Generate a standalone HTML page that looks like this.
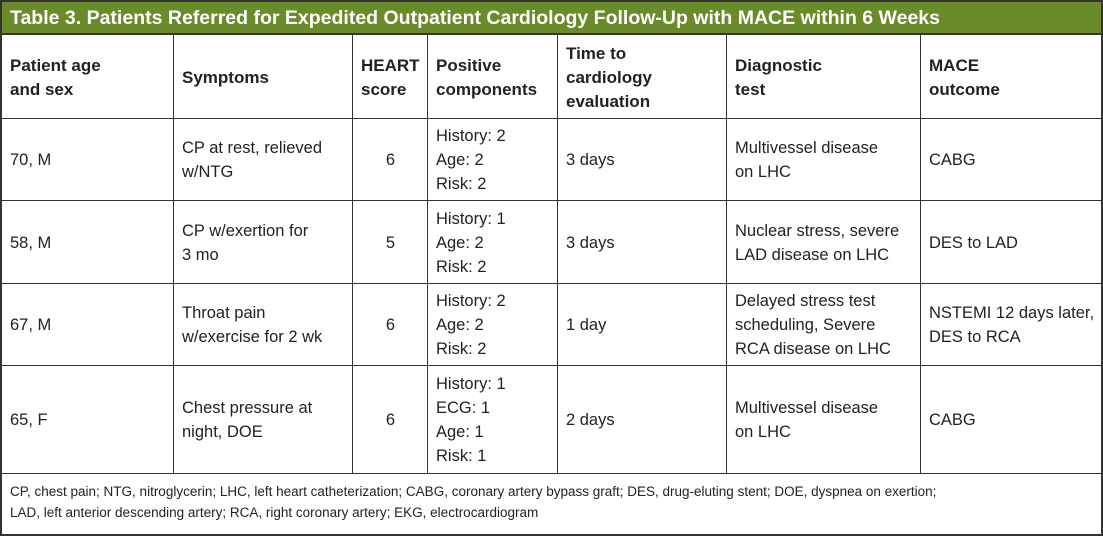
<!DOCTYPE html>
<html><head><meta charset="utf-8"><style>
body{margin:0;width:1103px;height:536px;background:#fff;font-family:"Liberation Sans",sans-serif;color:#222;overflow:hidden}
#t{position:absolute;left:0;top:0;width:1099px;height:532px;border:2px solid #333;}
.title{position:absolute;left:0;top:0;width:1099px;height:33px;background:#6b8a2a;color:#fff;font-weight:bold;font-size:19.5px;line-height:33px;padding-left:8px;box-sizing:border-box;border-bottom:2px solid #333}
.c{position:absolute;display:flex;align-items:center;box-sizing:border-box;font-size:16.5px;line-height:24px;padding-left:8px}
.h{font-weight:bold;font-size:17px}
.ctr{justify-content:center;padding-left:0}
.vl{position:absolute;top:33px;height:438px;width:1px;background:#333}
.hl{position:absolute;left:0;width:1099px;height:1px;background:#333}
.foot{position:absolute;left:8px;top:479px;font-size:13.5px;line-height:21px;color:#222}
</style></head><body>
<div id="t">
<div class="title">Table 3. Patients Referred for Expedited Outpatient Cardiology Follow-Up with MACE within 6 Weeks</div>
<div class="vl" style="left:171px"></div><div class="vl" style="left:350px"></div><div class="vl" style="left:425px"></div><div class="vl" style="left:555px"></div><div class="vl" style="left:724px"></div><div class="vl" style="left:918px"></div>
<div class="hl" style="top:116px"></div><div class="hl" style="top:198px"></div><div class="hl" style="top:281px"></div><div class="hl" style="top:363px"></div><div class="hl" style="top:471px"></div>
<div id="rows"></div>
<div class="foot">CP, chest pain; NTG, nitroglycerin; LHC, left heart catheterization; CABG, coronary artery bypass graft; DES, drug-eluting stent; DOE, dyspnea on exertion;<br>LAD, left anterior descending artery; RCA, right coronary artery; EKG, electrocardiogram</div>
</div>
<script>
const xs=[0,172,351,426,556,725,919,1099];
const ys=[35,117,199,282,364,471];
const header=["Patient age<br>and sex","Symptoms","HEART<br>score","Positive<br>components","Time to<br>cardiology<br>evaluation","Diagnostic<br>test","MACE<br>outcome"];
const rows=[
["70, M","CP at rest, relieved<br>w/NTG","6","History: 2<br>Age: 2<br>Risk: 2","3 days","Multivessel disease<br>on LHC","CABG"],
["58, M","CP w/exertion for<br>3 mo","5","History: 1<br>Age: 2<br>Risk: 2","3 days","Nuclear stress, severe<br>LAD disease on LHC","DES to LAD"],
["67, M","Throat pain<br>w/exercise for 2 wk","6","History: 2<br>Age: 2<br>Risk: 2","1 day","Delayed stress test<br>scheduling, Severe<br>RCA disease on LHC","NSTEMI 12 days later,<br>DES to RCA"],
["65, F","Chest pressure at<br>night, DOE","6","History: 1<br>ECG: 1<br>Age: 1<br>Risk: 1","2 days","Multivessel disease<br>on LHC","CABG"]];
const root=document.getElementById('rows');
[header,...rows].forEach((r,ri)=>{r.forEach((txt,ci)=>{
 const d=document.createElement('div');
 d.className='c'+(ri===0?' h':'')+(ci===2&&ri>0?' ctr':'');
 d.style.left=xs[ci]+'px';d.style.width=(xs[ci+1]-xs[ci])+'px';
 d.style.top=ys[ri]+'px';d.style.height=(ys[ri+1]-ys[ri])+'px';
 d.innerHTML='<div>'+txt+'</div>';
 
 
 root.appendChild(d);});});
</script>
</body></html>
